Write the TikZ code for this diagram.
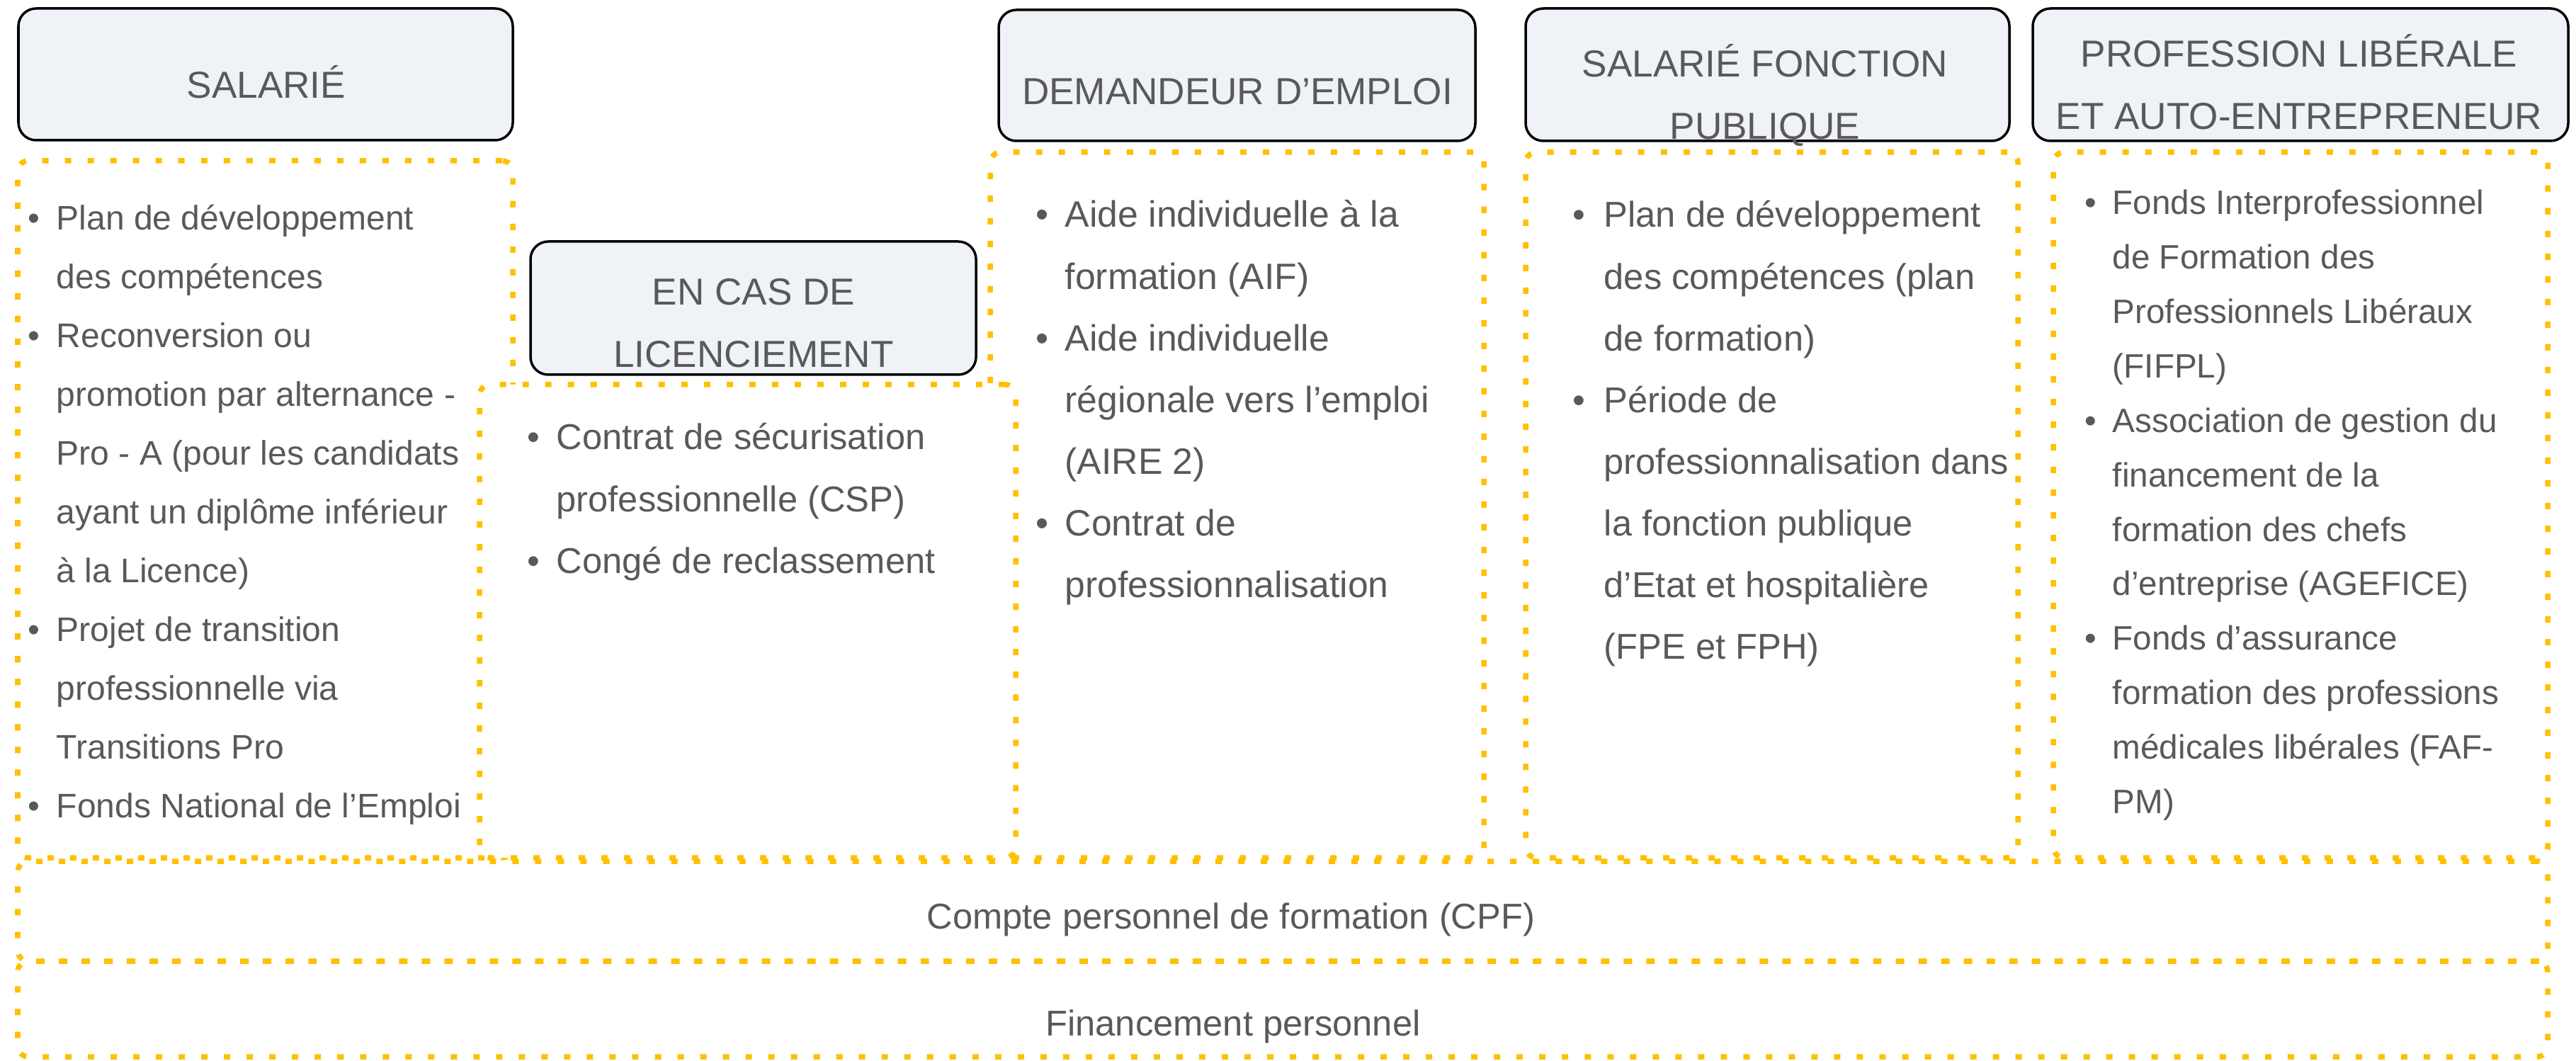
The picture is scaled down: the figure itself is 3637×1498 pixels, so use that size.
\documentclass[tikz,border=0pt]{standalone}
\usepackage{fontspec}
\setmainfont{Liberation Sans}
\usetikzlibrary{fit,positioning}
\definecolor{zonegold}{HTML}{FFC000}
\definecolor{hdrfill}{HTML}{EFF2F7}
\definecolor{textgrey}{HTML}{595959}

\begin{document}
\begin{tikzpicture}[
    x=0.01cm, y=-0.01cm,
    hdr/.style={draw=black, line width=0.035cm, fill=hdrfill, rounded corners=0.25cm, inner sep=0pt},
    zone/.style={draw=zonegold, line width=0.075cm, dash pattern=on 0.09cm off 0.23cm, rounded corners=0.15cm, inner sep=0pt},
    hdrtext/.style={text=textgrey, font=\fontsize{15.1pt}{25pt}\selectfont, anchor=base, inner sep=0pt},
    rowtext/.style={text=textgrey, font=\fontsize{14.4pt}{24pt}\selectfont, anchor=base, inner sep=0pt},
    items/.style={text=textgrey, anchor=base west, inner sep=0pt}
]
    \useasboundingbox (0,0) rectangle (3637,1498);

    \node [zone, fit={(25,227) (724,1211)}] (zsal) {};
    \node [zone, fit={(1398,215) (2095,1211)}] (zdem) {};
    \node [zone, fill=white, fit={(677,543) (1434,1211)}] (zlic) {};
    \node [zone, fit={(2154,215) (2849,1211)}] (zfon) {};
    \node [zone, fit={(2899,215) (3597,1211)}] (zpro) {};
    \node [zone, fit={(25,1216) (3597,1357)}] (zcpf) {};
    \node [zone, fit={(25,1357) (3597,1492)}] (zfin) {};

    \node [hdr, fit={(26,12) (724,198)}] (hsal) {};
    \node [hdr, fit={(749,341) (1378,529)}] (hlic) {};
    \node [hdr, fit={(1410,14) (2083,199)}] (hdem) {};
    \node [hdr, fit={(2154,12) (2837,199)}] (hfon) {};
    \node [hdr, fit={(2870,12) (3626,199)}] (hpro) {};

    \node [hdrtext] (tsal) at (376,139) {SALARIÉ};
    \node [hdrtext] (tlic) at (1064,431) {\begin{tabular}[t]{@{}c@{}}EN CAS DE\\LICENCIEMENT\end{tabular}};
    \node [hdrtext] (tdem) at (1747,148) {DEMANDEUR D’EMPLOI};
    \node [hdrtext] (tfon) at (2492,109) {\begin{tabular}[t]{@{}c@{}}SALARIÉ FONCTION\\PUBLIQUE\end{tabular}};
    \node [hdrtext] (tpro) at (3246,95) {\begin{tabular}[t]{@{}c@{}}PROFESSION LIBÉRALE\\ET AUTO-ENTREPRENEUR\end{tabular}};

    \node [items, font=\fontsize{13.66pt}{23.6pt}\selectfont] (lsal) at (39,325) {\begin{tabular}[t]{@{}p{0.40cm}@{}l@{}}
        \textbullet & Plan de développement\\
        & des compétences\\
        \textbullet & Reconversion ou\\
        & promotion par alternance -\\
        & Pro - A (pour les candidats\\
        & ayant un diplôme inférieur\\
        & à la Licence)\\
        \textbullet & Projet de transition\\
        & professionnelle via\\
        & Transitions Pro\\
        \textbullet & Fonds National de l’Emploi
    \end{tabular}};

    \node [items, font=\fontsize{14.4pt}{24.75pt}\selectfont] (llic) at (744,635) {\begin{tabular}[t]{@{}p{0.41cm}@{}l@{}}
        \textbullet & Contrat de sécurisation\\
        & professionnelle (CSP)\\
        \textbullet & Congé de reclassement
    \end{tabular}};

    \node [items, font=\fontsize{14.7pt}{24.75pt}\selectfont] (ldem) at (1462,321) {\begin{tabular}[t]{@{}p{0.41cm}@{}l@{}}
        \textbullet & Aide individuelle à la\\
        & formation (AIF)\\
        \textbullet & Aide individuelle\\
        & régionale vers l’emploi\\
        & (AIRE 2)\\
        \textbullet & Contrat de\\
        & professionnalisation
    \end{tabular}};

    \node [items, font=\fontsize{14.4pt}{24.75pt}\selectfont] (lfon) at (2220,321) {\begin{tabular}[t]{@{}p{0.44cm}@{}l@{}}
        \textbullet & Plan de développement\\
        & des compétences (plan\\
        & de formation)\\
        \textbullet & Période de\\
        & professionnalisation dans\\
        & la fonction publique\\
        & d’Etat et hospitalière\\
        & (FPE et FPH)
    \end{tabular}};

    \node [items, font=\fontsize{13.55pt}{21.85pt}\selectfont] (lpro) at (2943,303) {\begin{tabular}[t]{@{}p{0.39cm}@{}l@{}}
        \textbullet & Fonds Interprofessionnel\\
        & de Formation des\\
        & Professionnels Libéraux\\
        & (FIFPL)\\
        \textbullet & Association de gestion du\\
        & financement de la\\
        & formation des chefs\\
        & d’entreprise (AGEFICE)\\
        \textbullet & Fonds d’assurance\\
        & formation des professions\\
        & médicales libérales (FAF-\\
        & PM)
    \end{tabular}};

    \node [rowtext] (tcpf) at (1738,1311) {Compte personnel de formation (CPF)};
    \node [rowtext] (tfin) at (1741,1462) {Financement personnel};

\end{tikzpicture}
\end{document}
